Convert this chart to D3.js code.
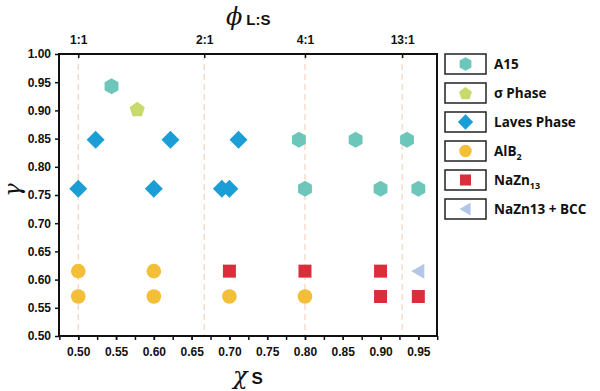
<!DOCTYPE html>
<html><head><meta charset="utf-8">
<script src="https://cdn.jsdelivr.net/npm/d3@7"></script>
<style>body{margin:0;background:#fff}svg{display:block}</style>
</head><body><svg id="c" width="600" height="391"></svg>
<script>
const xTicks = [0.50,0.55,0.60,0.65,0.70,0.75,0.80,0.85,0.90,0.95];
const yTicks = [0.50,0.55,0.60,0.65,0.70,0.75,0.80,0.85,0.90,0.95,1.00];
const ratioLabels = ["1:1","2:1","4:1","13:1"];
const ratioValues = [0.5, 2/3, 0.8, 13/14];

const a15X = [0.544, 0.792, 0.867, 0.935, 0.80, 0.90, 0.95];
const a15Y = [0.943, 0.848, 0.848, 0.848, 0.761, 0.761, 0.761];
const sigmaX = [0.578];
const sigmaY = [0.903];
const lavesX = [0.523, 0.622, 0.712, 0.50, 0.60, 0.690, 0.700];
const lavesY = [0.848, 0.848, 0.848, 0.761, 0.761, 0.761, 0.761];
const alb2X = [0.50, 0.60, 0.50, 0.60, 0.70, 0.80];
const alb2Y = [0.615, 0.615, 0.570, 0.570, 0.570, 0.570];
const nazn13X = [0.70, 0.80, 0.90, 0.90, 0.95];
const nazn13Y = [0.615, 0.615, 0.615, 0.570, 0.570];
const bccX = [0.95];
const bccY = [0.615];

const series = [
  {name:"A15", xs:a15X, ys:a15Y, color:"#6cc6b9", shape:"hex"},
  {name:"σ Phase", xs:sigmaX, ys:sigmaY, color:"#c8da6c", shape:"pent"},
  {name:"Laves Phase", xs:lavesX, ys:lavesY, color:"#1b9ed6", shape:"diamond"},
  {name:"AlB2", xs:alb2X, ys:alb2Y, color:"#f4bf38", shape:"circle", sub:["AlB","2"]},
  {name:"NaZn13", xs:nazn13X, ys:nazn13Y, color:"#d92f3a", shape:"square", sub:["NaZn","13"]},
  {name:"NaZn13 + BCC", xs:bccX, ys:bccY, color:"#b3c6e8", shape:"tri"}
];

const svg = d3.select("#c");
const L=59, R=437, T=54, B=336;
const x = d3.scaleLinear().domain([0.4745,0.9747]).range([L,R]);
const y = d3.scaleLinear().domain([0.5,1.0]).range([B,T]);
const font = "Arial, 'Liberation Sans', sans-serif";

svg.append("g").selectAll("line").data(ratioValues).join("line")
  .attr("x1",d=>x(d)).attr("x2",d=>x(d)).attr("y1",T).attr("y2",B)
  .attr("stroke","#f6d3bd").attr("stroke-width",1.2).attr("stroke-dasharray","6,4");

function shapePath(shape, k){
  if(shape==="hex"){
    const r=8*k,p=[];for(let i=0;i<6;i++){const a=Math.PI/2+Math.PI/3*i;p.push([r*Math.cos(a),r*Math.sin(a)]);}
    return "M"+p.map(q=>q.join(",")).join("L")+"Z";
  }
  if(shape==="pent"){
    const r=8*k,p=[];for(let i=0;i<5;i++){const a=-Math.PI/2+2*Math.PI/5*i;p.push([r*Math.cos(a),r*Math.sin(a)+1*k]);}
    return "M"+p.map(q=>q.join(",")).join("L")+"Z";
  }
  if(shape==="diamond"){const r=9*k;return `M0,${-r}L${r},0L0,${r}L${-r},0Z`;}
  if(shape==="circle"){return d3.arc()({innerRadius:0,outerRadius:7.3*k,startAngle:0,endAngle:2*Math.PI});}
  if(shape==="square"){const s=6.5*k;return `M${-s},${-s}H${s}V${s}H${-s}Z`;}
  if(shape==="tri"){return `M${-7*k},0L${6*k},${-7.5*k}L${6*k},${7.5*k}Z`;}
}
series.forEach(s=>{
  const pts = s.xs.map((v,i)=>[v,s.ys[i]]);
  svg.append("g").selectAll("path").data(pts).join("path")
    .attr("transform",d=>`translate(${x(d[0])},${y(d[1])})`)
    .attr("d",shapePath(s.shape,1)).attr("fill",s.color);
});

const xAxis = svg.append("g").attr("transform",`translate(0,${B})`)
  .call(d3.axisBottom(x).tickValues(d3.range(0.475,0.976,0.025)).tickSize(4).tickFormat(""));
const xLab = svg.append("g").attr("transform",`translate(0,${B})`)
  .call(d3.axisBottom(x).tickValues(xTicks).tickSize(4).tickPadding(7).tickFormat(d3.format(".2f")));
const yAx = svg.append("g").attr("transform",`translate(${L},0)`)
  .call(d3.axisLeft(y).tickValues(yTicks).tickSize(4).tickPadding(4).tickFormat(d3.format(".2f")));
const topAx = svg.append("g").attr("transform",`translate(0,${T})`)
  .call(d3.axisTop(x).tickValues(ratioValues).tickSize(-4).tickPadding(10).tickFormat((d,i)=>ratioLabels[i]));
[xAxis,xLab,yAx,topAx].forEach(g=>{
  g.select(".domain").remove();
  g.selectAll("line").attr("stroke","#111").attr("stroke-width",1.5);
  g.selectAll("text").attr("font-family",font).attr("font-weight","bold").attr("font-size",12).attr("fill","#111");
});
svg.append("rect").attr("x",L).attr("y",T).attr("width",R-L).attr("height",B-T)
  .attr("fill","none").attr("stroke","#111").attr("stroke-width",2);

const tt = svg.append("text").attr("x",226).attr("y",25).attr("font-family",font).attr("fill","#111");
tt.append("tspan").attr("font-style","italic").attr("font-size",24).attr("font-family","'DejaVu Serif', serif").text("ϕ");
tt.append("tspan").attr("font-size",15).attr("font-weight","bold").attr("dx",4).text("L:S");
const bt = svg.append("text").attr("x",233).attr("y",384).attr("font-family",font).attr("fill","#111");
bt.append("tspan").attr("font-style","italic").attr("font-size",24).attr("font-family","'DejaVu Serif', serif").text("χ");
bt.append("tspan").attr("font-size",17).attr("font-weight","bold").attr("dx",4).text("S");
svg.append("text").attr("transform","translate(20,190) rotate(-90)").attr("text-anchor","middle")
  .attr("font-family","'DejaVu Serif', serif").attr("font-style","italic").attr("font-size",22).attr("fill","#111").text("γ");

const lg = svg.append("g");
series.forEach((s,i)=>{
  const yy = 54 + i*29;
  lg.append("rect").attr("x",445).attr("y",yy).attr("width",41).attr("height",20)
    .attr("fill","#fff").attr("stroke","#222").attr("stroke-width",1.5);
  lg.append("path").attr("transform",`translate(465.5,${yy+10})`).attr("d",shapePath(s.shape,0.85)).attr("fill",s.color);
  const t = lg.append("text").attr("x",494).attr("y",yy+15).attr("font-family","'Open Sans', sans-serif")
    .attr("font-weight","bold").attr("font-size",13.5).attr("fill","#111");
  if(s.sub){ t.append("tspan").text(s.sub[0]); t.append("tspan").attr("font-size",9).attr("dy",4).text(s.sub[1]); }
  else t.text(s.name);
});
</script></body></html>
